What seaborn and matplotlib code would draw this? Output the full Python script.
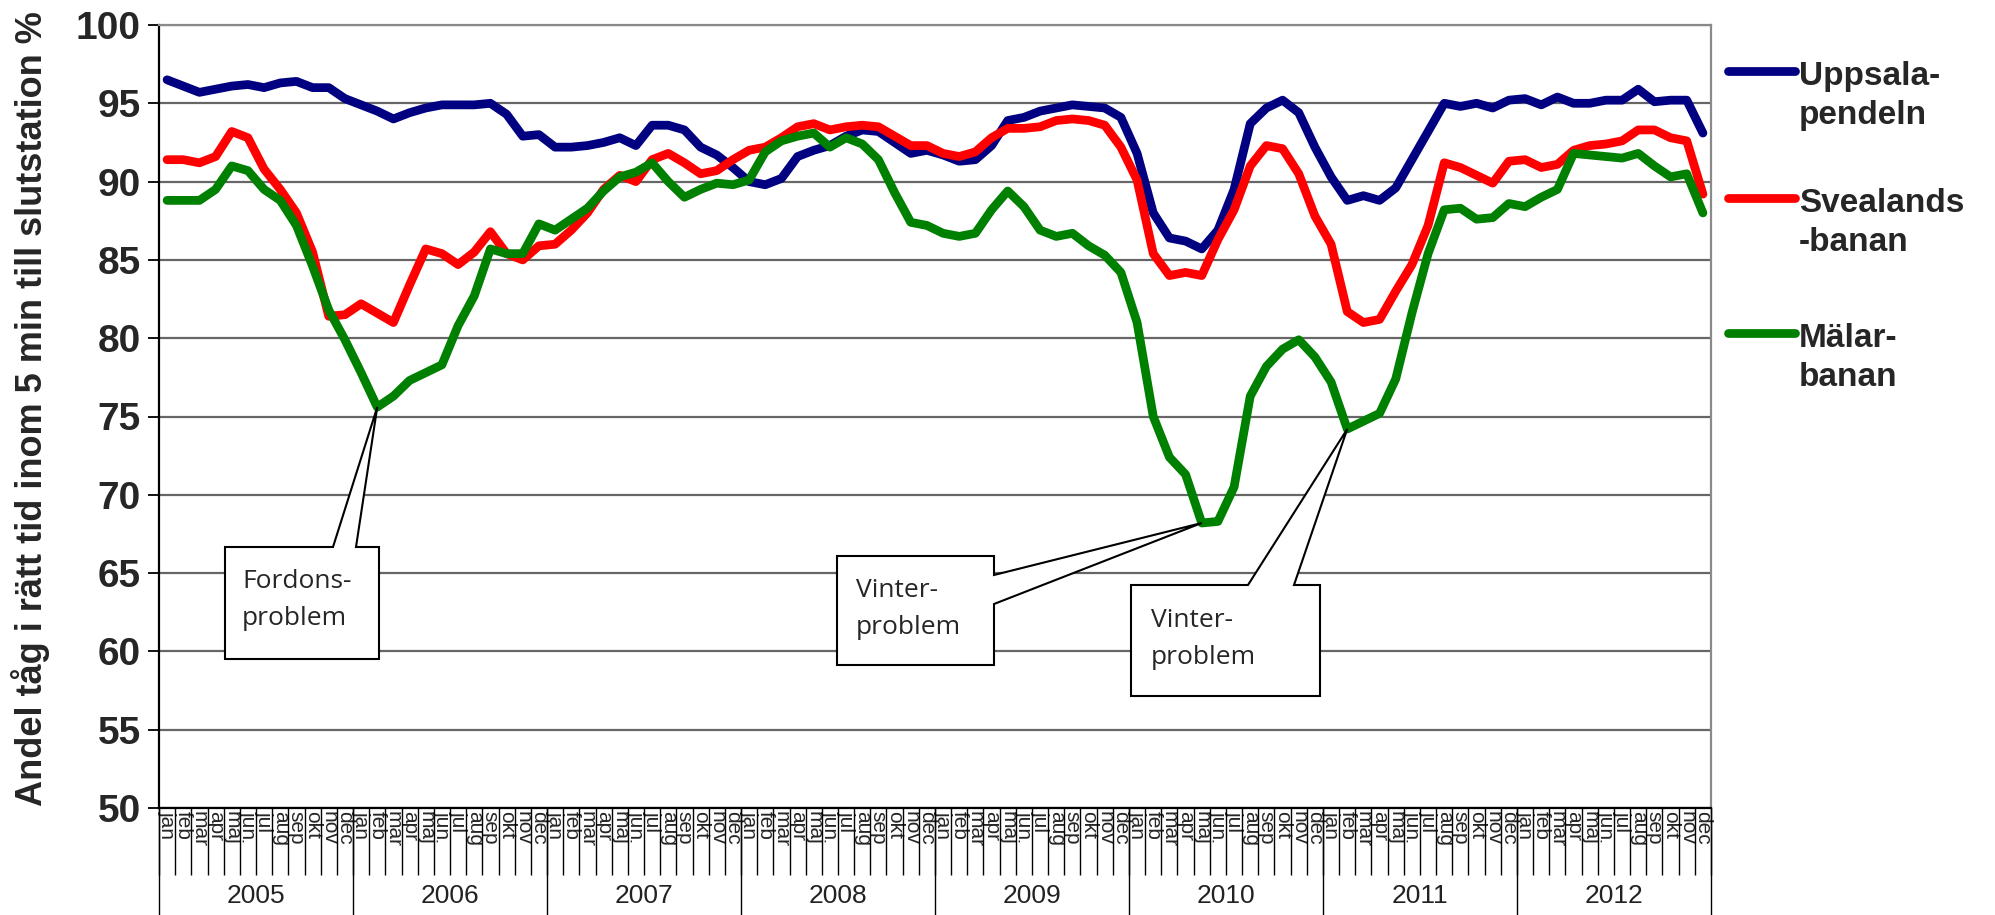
import matplotlib.pyplot as plt
import matplotlib.patches as mpatches
import matplotlib.lines as mlines
import pandas as pd
import seaborn as sns

# månader och år på x-axeln
years = [2005, 2006, 2007, 2008, 2009, 2010, 2011, 2012]
months = ["jan", "feb", "mar", "apr", "maj", "jun", "jul", "aug", "sep", "okt", "nov", "dec"]

# andel tåg i rätt tid (%), jan 2005 - dec 2012
uppsala = [
    96.5, 96.1, 95.7, 95.9, 96.1, 96.2, 96.0, 96.3, 96.4, 96.0, 96.0, 95.3,
    94.9, 94.5, 94.0, 94.4, 94.7, 94.9, 94.9, 94.9, 95.0, 94.3, 92.9, 93.0,
    92.2, 92.2, 92.3, 92.5, 92.8, 92.3, 93.6, 93.6, 93.3, 92.2, 91.7, 90.9,
    90.0, 89.8, 90.2, 91.6, 92.0, 92.3, 92.9, 93.3, 93.2, 92.5, 91.8, 92.0,
    91.7, 91.3, 91.4, 92.3, 93.9, 94.1, 94.5, 94.7, 94.9, 94.8, 94.7, 94.1,
    91.8, 88.0, 86.4, 86.2, 85.7, 86.9, 89.5, 93.7, 94.7, 95.2, 94.4, 92.2,
    90.3, 88.8, 89.1, 88.8, 89.6, 91.4, 93.2, 95.0, 94.8, 95.0, 94.7, 95.2,
    95.3, 94.9, 95.4, 95.0, 95.0, 95.2, 95.2, 95.9, 95.1, 95.2, 95.2, 93.1,
]
svealand = [
    91.4, 91.4, 91.2, 91.6, 93.2, 92.8, 90.8, 89.5, 88.0, 85.5, 81.4, 81.5,
    82.2, 81.6, 81.0, 83.4, 85.7, 85.4, 84.7, 85.5, 86.8, 85.4, 85.0, 85.9,
    86.0, 86.9, 88.0, 89.5, 90.4, 90.0, 91.4, 91.8, 91.2, 90.5, 90.7, 91.4,
    92.0, 92.2, 92.8, 93.5, 93.7, 93.3, 93.5, 93.6, 93.5, 92.9, 92.3, 92.3,
    91.8, 91.6, 91.9, 92.8, 93.4, 93.4, 93.5, 93.9, 94.0, 93.9, 93.6, 92.2,
    90.1, 85.4, 84.0, 84.2, 84.0, 86.3, 88.2, 91.0, 92.3, 92.1, 90.5, 87.8,
    86.0, 81.7, 81.0, 81.2, 83.0, 84.7, 87.2, 91.2, 90.9, 90.4, 89.9, 91.3,
    91.4, 90.9, 91.1, 92.0, 92.3, 92.4, 92.6, 93.3, 93.3, 92.8, 92.6, 89.2,
]
malar = [
    88.8, 88.8, 88.8, 89.5, 91.0, 90.7, 89.5, 88.8, 87.2, 84.6, 81.8, 79.9,
    77.8, 75.6, 76.3, 77.3, 77.8, 78.3, 80.8, 82.7, 85.7, 85.4, 85.4, 87.3,
    86.9, 87.6, 88.3, 89.4, 90.3, 90.6, 91.2, 90.0, 89.0, 89.5, 89.9, 89.8,
    90.1, 91.9, 92.6, 92.9, 93.1, 92.2, 92.8, 92.4, 91.4, 89.3, 87.4, 87.2,
    86.7, 86.5, 86.7, 88.2, 89.4, 88.4, 86.9, 86.5, 86.7, 85.9, 85.3, 84.2,
    81.0, 75.0, 72.4, 71.3, 68.2, 68.3, 70.5, 76.3, 78.2, 79.3, 79.9, 78.8,
    77.2, 74.2, 74.7, 75.2, 77.4, 81.6, 85.4, 88.2, 88.3, 87.6, 87.7, 88.6,
    88.4, 89.0, 89.5, 91.8, 91.7, 91.6, 91.5, 91.8, 91.0, 90.3, 90.5, 88.0,
]

series_names = ["Uppsala-\npendeln", "Svealands\n-banan", "Mälar-\nbanan"]
colors = ["#000080", "#ff0000", "#008000"]

n = len(years) * len(months)
df = pd.DataFrame({
    "idx": list(range(n)) * 3,
    "andel": uppsala + svealand + malar,
    "bana": [series_names[0]] * n + [series_names[1]] * n + [series_names[2]] * n,
})

sns.set_style("white")
plt.rcParams["font.family"] = ["Liberation Sans", "DejaVu Sans"]
narrow = ["Liberation Sans Narrow", "Liberation Sans", "DejaVu Sans"]

W, H = 1995, 915
fig = plt.figure(figsize=(W / 100, H / 100), dpi=100)
ax = fig.add_axes([159 / W, 1 - 808 / H, (1711 - 159) / W, (808 - 25) / H])


def fig_px(x, y):
    # pixel (från övre vänstra hörnet) -> figurkoordinater
    return (x / W, 1 - y / H)


sns.lineplot(data=df, x="idx", y="andel", hue="bana", hue_order=series_names,
             palette=colors, linewidth=6.3, legend=False, ax=ax, zorder=3)

ax.set_xlim(-0.5, n - 0.5)
ax.set_ylim(50, 100)
ax.set_yticks(range(50, 101, 5))
ax.grid(axis="y", color="#666666", linewidth=1.6)
ax.grid(axis="x", visible=False)
ax.set_axisbelow(True)
ax.set_xlabel("")
ax.set_ylabel("Andel tåg i rätt tid inom 5 min till slutstation %",
              fontsize=26, fontweight="bold")
ax.yaxis.set_label_coords(-0.0705, 0.51)

for lab in ax.get_yticklabels():
    lab.set_fontweight("bold")
ax.tick_params(axis="y", labelsize=28, length=8, width=1.3, color="black",
               direction="out", pad=5, left=True)

# månadsetiketter
ax.set_xticks(range(n))
ax.set_xticklabels(months * len(years), family=narrow)
ax.tick_params(axis="x", which="major", length=0, labelsize=15,
               labelrotation=270, pad=2)
ax.set_xticks([i - 0.5 for i in range(n + 1)], minor=True)
ax.tick_params(axis="x", which="minor", length=48, width=1.0, color="black",
               direction="out", bottom=True)

for side in ["left", "bottom"]:
    ax.spines[side].set_color("black")
    ax.spines[side].set_linewidth(1.6)
for side in ["top", "right"]:
    ax.spines[side].set_color("#8a8a8a")
    ax.spines[side].set_linewidth(1.6)

# årsrader
trans = ax.get_xaxis_transform()
for k, yr in enumerate(years):
    ax.plot([k * 12 - 0.5] * 2, [0, -0.14], transform=trans, clip_on=False,
            color="black", lw=1.0)
    ax.text(k * 12 + 5.5, -0.112, str(yr), transform=trans, ha="center",
            va="center", fontsize=19, family=narrow, color="#222222")
ax.plot([n - 0.5] * 2, [0, -0.14], transform=trans, clip_on=False,
        color="black", lw=1.0)

# legend till höger
legend_y = [71, 198, 333]
for name, col, ly in zip(series_names, colors, legend_y):
    x0, y0 = fig_px(1728, ly)
    x1, _ = fig_px(1795, ly)
    fig.add_artist(mlines.Line2D([x0, x1], [y0, y0], color=col, lw=6.3,
                                 solid_capstyle="round"))
    tx, ty = fig_px(1799, ly - 10)
    fig.text(tx, ty, name, fontsize=24, fontweight="bold", ha="left",
             va="top", linespacing=1.32)


# pratbubblor
def tip_px(i, values):
    disp = ax.transData.transform((i, values[i]))
    return (disp[0], H - disp[1])


def callout(points, text, tx, ty):
    pts = [fig_px(x, y) for x, y in points]
    poly = mpatches.Polygon(pts, closed=True, facecolor="white",
                            edgecolor="black", lw=1.5,
                            transform=fig.transFigure, zorder=6)
    fig.add_artist(poly)
    px, py = fig_px(tx, ty)
    fig.text(px, py, text, fontsize=19, family=["Open Sans", "DejaVu Sans"],
             ha="left", va="center", linespacing=1.65, zorder=7)


t1 = tip_px(13, malar)
callout([(225, 547), (333, 547), t1, (356, 547), (379, 547), (379, 659), (225, 659)],
        "Fordons-\nproblem", 242, 600)

t2 = tip_px(64, malar)
callout([(837, 556), (994, 556), (994, 575), t2, (994, 604), (994, 665), (837, 665)],
        "Vinter-\nproblem", 856, 609)

t3 = tip_px(73, malar)
callout([(1131, 585), (1248, 585), t3, (1294, 585), (1320, 585), (1320, 696), (1131, 696)],
        "Vinter-\nproblem", 1151, 639)

fig.savefig("out.png", dpi=100)
